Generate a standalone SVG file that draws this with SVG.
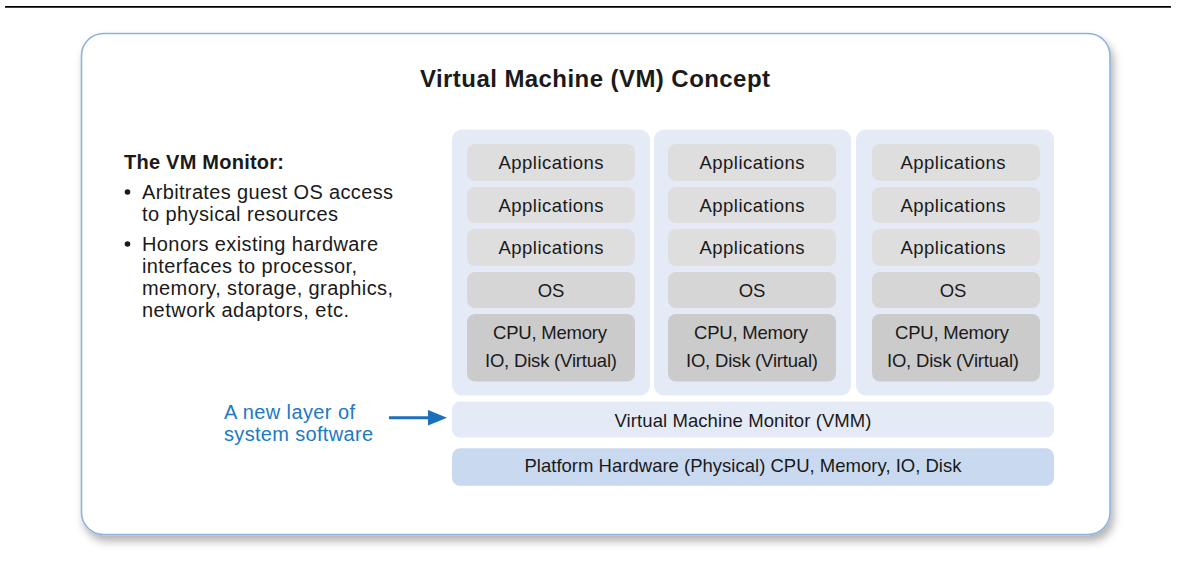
<svg xmlns="http://www.w3.org/2000/svg" width="1178" height="562" viewBox="0 0 1178 562">
<defs>
<style>
.t{font-family:"Liberation Sans",Arial,Helvetica,sans-serif;fill:#1a1a1a}
.box{font-size:18.5px;text-anchor:middle}
.lt{font-size:20px}
.blue{font-family:"Liberation Sans",Arial,Helvetica,sans-serif;font-size:20px;fill:#2178c4}
.panel{fill:#e5ebf6}
.app{fill:#dedede}
.os{fill:#d6d6d6}
.cpu{fill:#cbcbcb}
</style>
<filter id="sh" x="-5%" y="-5%" width="112%" height="115%">
<feDropShadow dx="3" dy="6" stdDeviation="4" flood-color="#000" flood-opacity="0.3"/>
</filter>
</defs>
<rect width="1178" height="562" fill="#fff"/>
<line x1="5" y1="6.8" x2="1171" y2="6.8" stroke="#000" stroke-width="1.8"/>
<g id="frame">
<rect x="81.5" y="33.5" width="1028.5" height="501" rx="22" fill="#fff" stroke="#8db2dd" stroke-width="1.6" filter="url(#sh)"/>
</g>
<g id="title">
<text class="t" x="595" y="86.5" font-size="24" font-weight="bold" text-anchor="middle" textLength="350" lengthAdjust="spacing">Virtual Machine (VM) Concept</text>
</g>
<g id="monitor-notes">
<text class="t lt" x="124" y="168.5" font-weight="bold" font-size="19.5" textLength="160" lengthAdjust="spacing">The VM Monitor:</text>
<circle cx="127.5" cy="192" r="2.8" fill="#1a1a1a"/>
<text class="t lt" x="142" y="198.5" textLength="251" lengthAdjust="spacing">Arbitrates guest OS access</text>
<text class="t lt" x="142" y="220.5" textLength="196" lengthAdjust="spacing">to physical resources</text>
<circle cx="127.5" cy="244" r="2.8" fill="#1a1a1a"/>
<text class="t lt" x="142" y="250.5" textLength="236" lengthAdjust="spacing">Honors existing hardware</text>
<text class="t lt" x="142" y="272.5" textLength="215" lengthAdjust="spacing">interfaces to processor,</text>
<text class="t lt" x="142" y="294.5" textLength="251" lengthAdjust="spacing">memory, storage, graphics,</text>
<text class="t lt" x="142" y="316.5" textLength="207" lengthAdjust="spacing">network adaptors, etc.</text>
</g>
<g id="new-layer-label">
<text class="blue" x="224" y="418.5" textLength="131" lengthAdjust="spacing">A new layer of</text>
<text class="blue" x="224" y="441" textLength="149" lengthAdjust="spacing">system software</text>
</g>
<g id="vm1">
<rect class="panel" x="452" y="129.5" width="198" height="266" rx="10"/>
<rect class="app" x="467" y="144" width="168" height="37" rx="8"/>
<text class="t box" x="551" y="169" textLength="105" lengthAdjust="spacing">Applications</text>
<rect class="app" x="467" y="187" width="168" height="36" rx="8"/>
<text class="t box" x="551" y="211.5" textLength="105" lengthAdjust="spacing">Applications</text>
<rect class="app" x="467" y="229" width="168" height="37" rx="8"/>
<text class="t box" x="551" y="254" textLength="105" lengthAdjust="spacing">Applications</text>
<rect class="os" x="467" y="272" width="168" height="36" rx="8"/>
<text class="t box" x="551" y="296.5">OS</text>
<rect class="cpu" x="467" y="314" width="168" height="67.5" rx="8"/>
<text class="t box" x="550" y="339.3" textLength="114" lengthAdjust="spacing">CPU, Memory</text>
<text class="t box" x="551" y="366.7" textLength="132" lengthAdjust="spacing">IO, Disk (Virtual)</text>
</g>
<g id="vm2">
<rect class="panel" x="654" y="129.5" width="197" height="266" rx="10"/>
<rect class="app" x="668" y="144" width="168" height="37" rx="8"/>
<text class="t box" x="752" y="169" textLength="105" lengthAdjust="spacing">Applications</text>
<rect class="app" x="668" y="187" width="168" height="36" rx="8"/>
<text class="t box" x="752" y="211.5" textLength="105" lengthAdjust="spacing">Applications</text>
<rect class="app" x="668" y="229" width="168" height="37" rx="8"/>
<text class="t box" x="752" y="254" textLength="105" lengthAdjust="spacing">Applications</text>
<rect class="os" x="668" y="272" width="168" height="36" rx="8"/>
<text class="t box" x="752" y="296.5">OS</text>
<rect class="cpu" x="668" y="314" width="168" height="67.5" rx="8"/>
<text class="t box" x="751" y="339.3" textLength="114" lengthAdjust="spacing">CPU, Memory</text>
<text class="t box" x="752" y="366.7" textLength="132" lengthAdjust="spacing">IO, Disk (Virtual)</text>
</g>
<g id="vm3">
<rect class="panel" x="856" y="129.5" width="198" height="266" rx="10"/>
<rect class="app" x="872" y="144" width="168" height="37" rx="8"/>
<text class="t box" x="953" y="169" textLength="105" lengthAdjust="spacing">Applications</text>
<rect class="app" x="872" y="187" width="168" height="36" rx="8"/>
<text class="t box" x="953" y="211.5" textLength="105" lengthAdjust="spacing">Applications</text>
<rect class="app" x="872" y="229" width="168" height="37" rx="8"/>
<text class="t box" x="953" y="254" textLength="105" lengthAdjust="spacing">Applications</text>
<rect class="os" x="872" y="272" width="168" height="36" rx="8"/>
<text class="t box" x="953" y="296.5">OS</text>
<rect class="cpu" x="872" y="314" width="168" height="67.5" rx="8"/>
<text class="t box" x="952" y="339.3" textLength="114" lengthAdjust="spacing">CPU, Memory</text>
<text class="t box" x="953" y="366.7" textLength="132" lengthAdjust="spacing">IO, Disk (Virtual)</text>
</g>
<g id="vmm">
<rect x="452" y="401.5" width="602" height="36" rx="8" fill="#e5ebf6"/>
<text class="t box" x="743" y="426.5" textLength="257" lengthAdjust="spacing">Virtual Machine Monitor (VMM)</text>
</g>
<g id="hardware">
<rect x="452" y="448.3" width="602" height="37.5" rx="8" fill="#c9d9ef"/>
<text class="t box" x="743" y="471.7" textLength="437" lengthAdjust="spacing">Platform Hardware (Physical) CPU, Memory, IO, Disk</text>
</g>
<g id="connectors">
<line x1="389" y1="417.7" x2="432" y2="417.7" stroke="#1b6fbb" stroke-width="3"/>
<path d="M428,410 L447,417.7 L428,425.4 Z" fill="#1b6fbb"/>
</g>
</svg>
